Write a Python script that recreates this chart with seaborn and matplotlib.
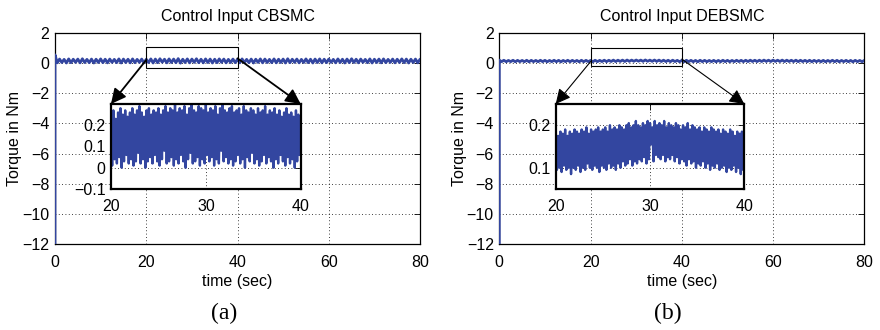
import numpy as np
import matplotlib
matplotlib.use("Agg")
import matplotlib.pyplot as plt
import seaborn as sns
from matplotlib.patches import Rectangle, ConnectionPatch

# ---------------- data ----------------
panel_titles = ["Control Input CBSMC", "Control Input DEBSMC"]
panel_tags = ["(a)", "(b)"]
x_label = "time (sec)"
y_label = "Torque in Nm"

main_xticks = [0, 20, 40, 60, 80]
main_yticks = [-12, -10, -8, -6, -4, -2, 0, 2]
inset_xticks = [20, 30, 40]
inset_a_yticks = [-0.1, 0, 0.1, 0.2]
inset_b_yticks = [0.1, 0.2]

# initial transient value at t = 0 (drops below the axis)
cb_start = -12.5
de_start = -12.5

# full-run signal, 1 s samples: upper swing at t, lower swing at t + 0.5 s
cb_main_hi = [0.55, 0.27, 0.25, 0.28, 0.26, 0.27, 0.29, 0.25, 0.27, 0.26,
              0.28, 0.26, 0.27, 0.25, 0.28, 0.27, 0.26, 0.28, 0.25, 0.27,
              0.26, 0.28, 0.27, 0.29, 0.26, 0.28, 0.27, 0.30, 0.26, 0.28,
              0.27, 0.29, 0.26, 0.28, 0.27, 0.26, 0.28, 0.27, 0.25, 0.27,
              0.26, 0.28, 0.25, 0.27, 0.26, 0.28, 0.27, 0.25, 0.28, 0.26,
              0.27, 0.29, 0.26, 0.27, 0.25, 0.28, 0.26, 0.27, 0.28, 0.26,
              0.27, 0.25, 0.28, 0.26, 0.27, 0.29, 0.26, 0.27, 0.25, 0.28,
              0.26, 0.27, 0.28, 0.25, 0.27, 0.26, 0.28, 0.27, 0.26, 0.27, 0.26]
cb_main_lo = [0.02, 0.04, 0.01, 0.03, 0.05, 0.02, 0.04, 0.03, 0.01, 0.04,
              0.03, 0.02, 0.05, 0.03, 0.01, 0.04, 0.02, 0.03, 0.05, 0.02,
              0.04, 0.01, 0.03, 0.06, 0.02, 0.04, 0.03, 0.00, 0.04, 0.02,
              0.05, 0.03, 0.02, 0.04, 0.01, 0.03, 0.05, 0.02, 0.04, 0.03,
              0.02, 0.04, 0.03, 0.01, 0.05, 0.02, 0.04, 0.03, 0.02, 0.04,
              0.01, 0.03, 0.05, 0.02, 0.04, 0.03, 0.01, 0.04, 0.02, 0.03,
              0.05, 0.02, 0.04, 0.01, 0.03, 0.04, 0.02, 0.05, 0.03, 0.01,
              0.04, 0.02, 0.03, 0.05, 0.02, 0.04, 0.03, 0.01, 0.04, 0.02, 0.03]
de_main_hi = [0.20, 0.19, 0.18, 0.19, 0.185, 0.18, 0.19, 0.185, 0.18, 0.19,
              0.185, 0.18, 0.19, 0.185, 0.18, 0.19, 0.185, 0.18, 0.19, 0.185,
              0.18, 0.19, 0.185, 0.195, 0.19, 0.20, 0.195, 0.20, 0.205, 0.20,
              0.205, 0.20, 0.21, 0.20, 0.205, 0.20, 0.195, 0.19, 0.195, 0.185,
              0.18, 0.19, 0.185, 0.18, 0.19, 0.185, 0.18, 0.185, 0.18, 0.19,
              0.185, 0.18, 0.19, 0.185, 0.19, 0.195, 0.19, 0.195, 0.20, 0.195,
              0.20, 0.195, 0.20, 0.195, 0.19, 0.195, 0.19, 0.185, 0.19, 0.185,
              0.18, 0.185, 0.18, 0.19, 0.185, 0.18, 0.185, 0.18, 0.185, 0.18, 0.185]
de_main_lo = [0.10, 0.095, 0.10, 0.09, 0.10, 0.095, 0.09, 0.10, 0.095, 0.10,
              0.09, 0.10, 0.095, 0.09, 0.10, 0.095, 0.10, 0.09, 0.095, 0.10,
              0.095, 0.10, 0.105, 0.10, 0.11, 0.105, 0.115, 0.11, 0.12, 0.125,
              0.13, 0.12, 0.125, 0.12, 0.115, 0.11, 0.105, 0.10, 0.105, 0.095,
              0.09, 0.10, 0.095, 0.09, 0.10, 0.095, 0.10, 0.09, 0.095, 0.10,
              0.095, 0.10, 0.105, 0.10, 0.105, 0.11, 0.105, 0.11, 0.115, 0.11,
              0.115, 0.11, 0.105, 0.11, 0.105, 0.10, 0.105, 0.10, 0.095, 0.10,
              0.095, 0.09, 0.10, 0.095, 0.09, 0.10, 0.095, 0.09, 0.10, 0.095, 0.09]

# zoomed window 20-40 s, 0.25 s samples: upper swing at t, lower at t + 0.125 s
cb_zoom_hi = [0.24, 0.27, 0.23, 0.26, 0.28, 0.25, 0.27, 0.24, 0.26, 0.28,
              0.25, 0.27, 0.29, 0.26, 0.24, 0.27, 0.28, 0.25, 0.27, 0.26,
              0.28, 0.25, 0.27, 0.29, 0.26, 0.28, 0.27, 0.30, 0.26, 0.28,
              0.27, 0.29, 0.25, 0.28, 0.30, 0.27, 0.26, 0.29, 0.28, 0.27,
              0.30, 0.26, 0.28, 0.27, 0.29, 0.25, 0.28, 0.30, 0.27, 0.26,
              0.28, 0.29, 0.26, 0.27, 0.28, 0.25, 0.29, 0.27, 0.26, 0.28,
              0.27, 0.25, 0.28, 0.26, 0.27, 0.29, 0.25, 0.27, 0.26, 0.28,
              0.25, 0.27, 0.24, 0.26, 0.28, 0.25, 0.26, 0.24, 0.27, 0.25, 0.24]
cb_zoom_lo = [0.01, 0.04, 0.02, 0.05, 0.00, 0.03, 0.06, 0.02, 0.04, 0.01,
              0.03, 0.07, 0.02, 0.04, 0.00, 0.03, 0.05, 0.02, 0.06, 0.03,
              0.01, 0.04, 0.08, 0.02, 0.03, 0.05, 0.01, 0.04, 0.02, 0.06,
              0.03, 0.00, 0.04, 0.07, 0.02, 0.03, 0.05, 0.01, 0.04, 0.02,
              0.06, 0.03, 0.05, 0.01, 0.04, 0.02, 0.08, 0.03, 0.05, 0.02,
              0.04, 0.01, 0.03, 0.06, 0.02, 0.04, 0.00, 0.05, 0.03, 0.07,
              0.02, 0.04, 0.01, 0.03, 0.06, 0.02, 0.05, 0.03, 0.00, 0.04,
              0.02, 0.06, 0.03, 0.01, 0.05, 0.02, 0.04, 0.00, 0.03, 0.06, 0.01]
de_zoom_hi = [0.18, 0.175, 0.185, 0.18, 0.19, 0.175, 0.185, 0.18, 0.19, 0.185,
              0.18, 0.19, 0.185, 0.195, 0.18, 0.19, 0.185, 0.19, 0.195, 0.185,
              0.19, 0.195, 0.185, 0.20, 0.19, 0.195, 0.19, 0.20, 0.195, 0.19,
              0.20, 0.205, 0.195, 0.20, 0.21, 0.20, 0.195, 0.205, 0.20, 0.21,
              0.205, 0.195, 0.21, 0.20, 0.205, 0.20, 0.21, 0.195, 0.205, 0.20,
              0.195, 0.205, 0.20, 0.19, 0.20, 0.195, 0.205, 0.19, 0.20, 0.195,
              0.19, 0.195, 0.185, 0.195, 0.19, 0.185, 0.195, 0.19, 0.185, 0.19,
              0.18, 0.19, 0.185, 0.18, 0.19, 0.185, 0.175, 0.185, 0.18, 0.185, 0.18]
de_zoom_lo = [0.095, 0.10, 0.09, 0.105, 0.095, 0.10, 0.085, 0.10, 0.095, 0.105,
              0.09, 0.10, 0.095, 0.11, 0.10, 0.095, 0.105, 0.10, 0.09, 0.105,
              0.10, 0.095, 0.11, 0.10, 0.105, 0.095, 0.11, 0.10, 0.115, 0.105,
              0.11, 0.12, 0.105, 0.115, 0.11, 0.12, 0.115, 0.125, 0.11, 0.12,
              0.155, 0.115, 0.13, 0.125, 0.12, 0.13, 0.115, 0.125, 0.12, 0.13,
              0.115, 0.125, 0.11, 0.12, 0.115, 0.105, 0.12, 0.11, 0.115, 0.10,
              0.11, 0.105, 0.115, 0.10, 0.11, 0.095, 0.105, 0.10, 0.11, 0.095,
              0.10, 0.105, 0.09, 0.10, 0.095, 0.105, 0.09, 0.10, 0.085, 0.095, 0.09]

# ---------------- style ----------------
sns.set_theme(style="white")
plt.rcParams['font.family'] = ['Liberation Sans', 'DejaVu Sans']
plt.rcParams['axes.unicode_minus'] = True
LINE = '#3346a0'
FS = 11.5


def interleave(t0, dt, hi, lo):
    ts, vs = [], []
    for i, (h, l) in enumerate(zip(hi, lo)):
        ts += [t0 + i * dt, t0 + i * dt + dt / 2]
        vs += [h, l]
    return ts, vs


def style_axes(ax, lw):
    ax.set_facecolor('white')
    for s in ax.spines.values():
        s.set_visible(True)
        s.set_color('black')
        s.set_linewidth(lw)
    ax.tick_params(direction='in', length=4, width=0.6, top=True, right=True,
                   labelsize=FS, colors='black', pad=4)
    ax.grid(True, color='black', linestyle=(0, (1, 3)), linewidth=0.6)
    ax.set_axisbelow(True)


fig = plt.figure(figsize=(8.8, 3.3), dpi=100)

panels = [
    dict(start=cb_start, mhi=cb_main_hi, mlo=cb_main_lo, zhi=cb_zoom_hi, zlo=cb_zoom_lo,
         main_pos=[0.0625, 0.2606, 0.4148, 0.6394], ins_pos=[0.1261, 0.4273, 0.2156, 0.2576],
         ylim=(-0.1, 0.3), yt=inset_a_yticks, rect=(-0.3, 1.35), a0=(20, 0.21), a1=(40, 0.32),
         alw=1.3, tagx=0.2545),
    dict(start=de_start, mhi=de_main_hi, mlo=de_main_lo, zhi=de_zoom_hi, zlo=de_zoom_lo,
         main_pos=[0.5674, 0.2606, 0.4148, 0.6394], ins_pos=[0.6315, 0.4273, 0.2143, 0.2576],
         ylim=(0.05, 0.25), yt=inset_b_yticks, rect=(-0.2, 1.2), a0=(20, 0.1), a1=(40, 0.27),
         alw=0.8, tagx=0.759),
]

for k, p in enumerate(panels):
    ax = fig.add_axes(p['main_pos'])
    style_axes(ax, 0.9)
    ts, vs = interleave(0.0, 1.0, p['mhi'], p['mlo'])
    ts = [0.0] + ts
    vs = [p['start']] + vs
    sns.lineplot(x=ts, y=vs, ax=ax, color=LINE, lw=2.0, estimator=None, sort=False,
                 zorder=3)
    ax.set_xlim(0, 80)
    ax.set_ylim(-12, 2)
    ax.set_xticks(main_xticks)
    ax.set_yticks(main_yticks)
    ax.tick_params(axis='x', pad=8)
    ax.set_title(panel_titles[k], fontsize=FS, pad=9, color='black')
    ax.set_xlabel(x_label, fontsize=FS, labelpad=3, color='black')
    ax.set_ylabel(y_label, fontsize=FS, labelpad=0, color='black')
    ry, rh = p['rect']
    ax.add_patch(Rectangle((20, ry), 20, rh, fill=False, ec='black', lw=0.8, zorder=4))

    ins = fig.add_axes(p['ins_pos'])
    style_axes(ins, 1.6)
    zt, zv = interleave(20.0, 0.25, p['zhi'], p['zlo'])
    sns.lineplot(x=zt, y=zv, ax=ins, color=LINE, lw=1.7, estimator=None, sort=False)
    ins.set_xlim(20, 40)
    ins.set_ylim(*p['ylim'])
    ins.set_xticks(inset_xticks)
    ins.set_yticks(p['yt'])
    ins.set_yticklabels([f"{v:g}".replace('-', '\u2212') for v in p['yt']])
    ins.tick_params(axis='x', pad=7)
    ins.set_xlabel('')
    ins.set_ylabel('')

    for src, corner in ((p['a0'], (0, 1)), (p['a1'], (1, 1))):
        con = ConnectionPatch(xyA=src, coordsA=ax.transData, xyB=corner, coordsB=ins.transAxes,
                              arrowstyle='-|>,head_length=0.5,head_width=0.25',
                              mutation_scale=18, color='black', lw=p['alw'],
                              shrinkA=0, shrinkB=0, zorder=10)
        fig.add_artist(con)

    fig.text(p['tagx'], 0.05, panel_tags[k], ha='center', va='center',
             family=['Liberation Serif', 'DejaVu Serif'], fontsize=17, color='black')

fig.savefig('out.png', dpi=100, facecolor='white')
